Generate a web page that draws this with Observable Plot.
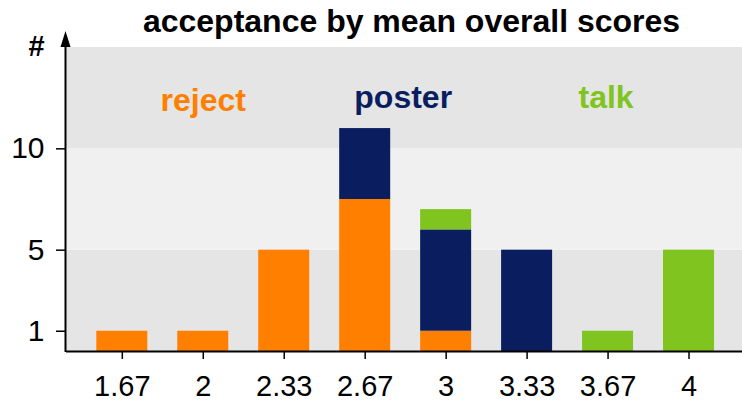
<!DOCTYPE html>
<html>
<head>
<meta charset="utf-8">
<script src="https://cdn.jsdelivr.net/npm/d3@7"></script>
<script src="https://cdn.jsdelivr.net/npm/@observablehq/plot@0.6"></script>
<style>
  html, body { margin: 0; padding: 0; background: white; }
</style>
</head>
<body>
<div id="chart"></div>
<script>
const scores = ["1.67", "2", "2.33", "2.67", "3", "3.33", "3.67", "4"];
const reject = [1, 1, 5, 7.5, 1, 0, 0, 0];
const poster = [0, 0, 0, 3.5, 5, 5, 0, 0];
const talk   = [0, 0, 0, 0, 1, 0, 1, 5];
const decisions = ["reject", "poster", "talk"];
const colors = ["#ff7f00", "#0a1e5f", "#80c41f"];
const yTicks = [1, 5, 10];
const bandEdges = [0, 5, 10, 15];
const labelAt = ["2", "2.67", "3.67"];   // category near which each label sits
const labelY = [11.85, 12, 12];
const title = "acceptance by mean overall scores";

const series = {reject, poster, talk};
const rows = [];
decisions.forEach(dec => scores.forEach((s, i) => rows.push({score: s, decision: dec, count: series[dec][i]})));
const bands = bandEdges.slice(0, -1).map((e, i) => ({y1: e, y2: bandEdges[i + 1], i}));
const labels = decisions.map((d, i) => ({name: d, x: labelAt[i], y: labelY[i]}));

const font = "Liberation Sans, Arial, Helvetica, sans-serif";

const plot = Plot.plot({
  width: 742,
  height: 403,
  marginLeft: 66,
  marginRight: 0,
  marginTop: 47,
  marginBottom: 52,
  style: {fontFamily: font, background: "white", color: "black", overflow: "visible"},
  x: {type: "band", domain: scores, paddingInner: 0.37, paddingOuter: 0.36, align: 0.52, round: false, axis: null},
  y: {domain: [0, 15], axis: null},
  color: {domain: decisions, range: colors},
  marks: [
    Plot.rectY(bands, {y1: "y1", y2: "y2", fill: d => d.i % 2 === 0 ? "#e5e5e5" : "#f0f0f0"}),
    Plot.barY(rows, {x: "score", y: "count", fill: "decision", order: decisions}),
    Plot.text(labels.slice(0, 1), {x: "x", y: "y", text: "name", fill: colors[0], fontSize: 32, fontWeight: "bold", lineAnchor: "bottom", textAnchor: "middle"}),
    Plot.text(labels.slice(1, 2), {x: "x", y: "y", text: "name", fill: colors[1], fontSize: 32, fontWeight: "bold", lineAnchor: "bottom", textAnchor: "middle", dx: 38}),
    Plot.text(labels.slice(2, 3), {x: "x", y: "y", text: "name", fill: colors[2], fontSize: 32, fontWeight: "bold", lineAnchor: "bottom", textAnchor: "middle", dx: -2}),
    Plot.ruleY([0], {stroke: "black", strokeWidth: 2}),
    Plot.axisX({tickSize: 8, tickPadding: 16, label: null, fontSize: 29, strokeWidth: 1.5}),
    Plot.axisY({ticks: yTicks, tickSize: 10, tickPadding: 12, label: null, fontSize: 30, strokeWidth: 1.5}),
    Plot.text([title], {frameAnchor: "top", dx: 7, dy: -16, lineAnchor: "bottom", fontSize: 32, fontWeight: "bold", fill: "black"}),
    Plot.text(["#"], {frameAnchor: "top-left", dx: -30, dy: 8, lineAnchor: "bottom", textAnchor: "middle", fontSize: 29, fontWeight: "bold", fill: "black"})
  ]
});

// y axis line with arrowhead, positioned from the plot's own scales
const ys = plot.scale("y");
const xs = plot.scale("x");
const x0 = xs.range[0] - 0.5;
const yTop = ys.apply(15);
const yBot = ys.apply(0);
const g = d3.select(plot).append("g");
g.append("path")
  .attr("d", `M${x0},${yBot + 1}V${yTop - 4}`)
  .attr("stroke", "black").attr("stroke-width", 2).attr("fill", "none");
g.append("path")
  .attr("d", `M${x0 - 5},${yTop}L${x0},${yTop - 16}L${x0 + 5},${yTop}Z`)
  .attr("fill", "black");

document.getElementById("chart").appendChild(plot);
</script>
</body>
</html>
